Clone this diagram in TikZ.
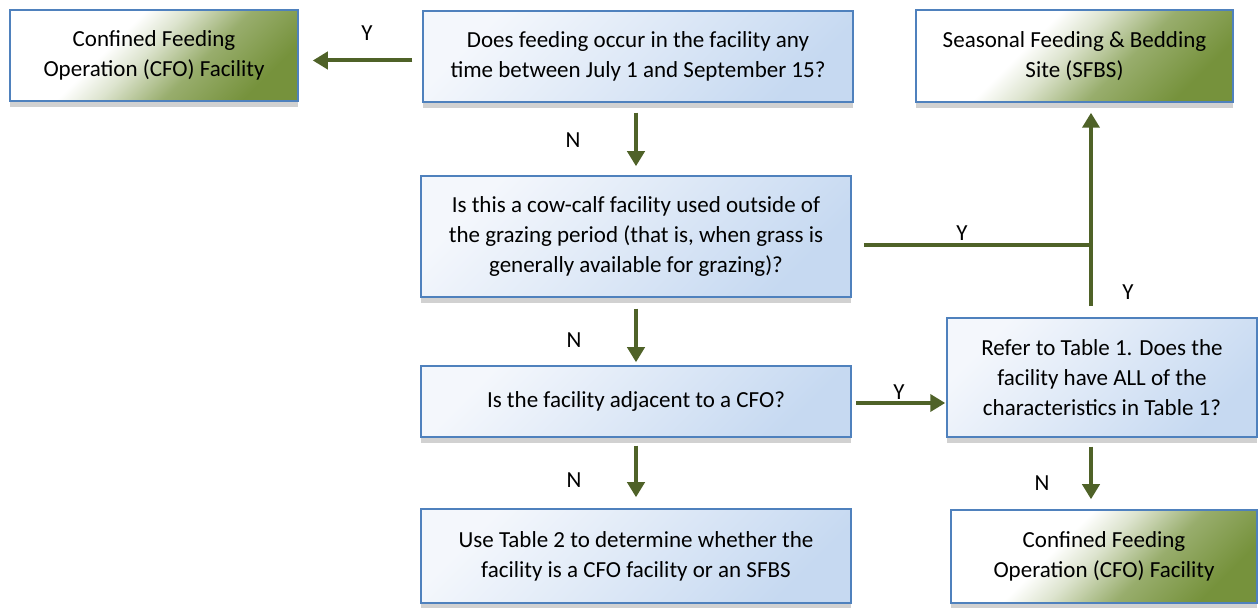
\documentclass[tikz,border=0pt]{standalone}
\usepackage{fontspec}
\setmainfont{Carlito}
\usetikzlibrary{arrows.meta,positioning,shadows}
\definecolor{myBorder}{HTML}{4F81BD}
\definecolor{myArrowGreen}{HTML}{4F6228}
\definecolor{myBlueLight}{HTML}{F4F7FC}
\definecolor{myBlueDark}{HTML}{C6D9F1}
\definecolor{myGreen}{HTML}{76923C}
\pgfdeclareverticalshading{myGreenFade}{100bp}{color(0bp)=(myGreen); color(25bp)=(myGreen); color(40bp)=(myGreen!75); color(52bp)=(myGreen!25); color(60bp)=(white); color(75bp)=(white); color(100bp)=(white)}
\tikzset{
myQuestion/.style={
	rectangle,draw=myBorder,line width=0.75pt,
	top color=myBlueLight,bottom color=myBlueDark,shading angle=45,
	align=center,inner sep=0pt,
	drop shadow={shadow xshift=0pt,shadow yshift=-3pt,opacity=1,fill=black!18}
}
, myResult/.style={
	rectangle,draw=myBorder,line width=0.75pt,
	shading=myGreenFade,shading angle=45,
	align=center,inner sep=0pt,
	drop shadow={shadow xshift=0pt,shadow yshift=-3pt,opacity=1,fill=black!18}
}
% links
, myArrow/.style={-{Triangle[width=8.5pt,length=7.5pt]},draw=myArrowGreen,line width=2pt}
, myLine/.style={draw=myArrowGreen,line width=2pt}
, myLabel/.style={inner sep=0pt}
}

\begin{document}
\begin{tikzpicture}[x=0.5pt,y=-0.5pt,font=\fontsize{11.5}{15}\selectfont]
	\useasboundingbox (0,0) rectangle (1259,608);
	% nodes
	\node[myResult,minimum width=144pt,minimum height=45.5pt] (cfoTop) at (154,55.5)
		{Confined Feeding\\Operation (CFO) Facility};
	\node[myQuestion,minimum width=215pt,minimum height=45.5pt] (q1) at (638,56.5)
		{Does feeding occur in the facility any\\time between July 1 and September 15?};
	\node[myResult,minimum width=158.5pt,minimum height=46pt] (sfbs) at (1074.5,56)
		{Seasonal Feeding \& Bedding\\Site (SFBS)};
	\node[myQuestion,minimum width=215pt,minimum height=60.5pt] (q2) at (636,236.5)
		{Is this a cow-calf facility used outside of\\the grazing period (that is, when grass is\\generally available for grazing)?};
	\node[myQuestion,minimum width=215pt,minimum height=35.5pt] (q3) at (636,401.5)
		{Is the facility adjacent to a CFO?};
	\node[myQuestion,minimum width=155pt,minimum height=59.5pt] (q4) at (1102,377.5)
		{Refer to Table 1. Does the\\facility have ALL of the\\characteristics in Table 1?};
	\node[myQuestion,minimum width=215pt,minimum height=47pt] (q5) at (636,556)
		{Use Table 2 to determine whether the\\facility is a CFO facility or an SFBS};
	\node[myResult,minimum width=153pt,minimum height=46.5pt] (cfoBot) at (1104,556.5)
		{Confined Feeding\\Operation (CFO) Facility};
	% labels
	\node[myLabel] (yCfo) at (367,33) {Y};
	\node[myLabel] (nQ1) at (573,140) {N};
	\node[myLabel] (yQ2) at (962,233) {Y};
	\node[myLabel] (yQ4) at (1128,292) {Y};
	\node[myLabel] (nQ2) at (574,340) {N};
	\node[myLabel] (yQ3) at (899,392) {Y};
	\node[myLabel] (nQ3) at (574,480) {N};
	\node[myLabel] (nQ4) at (1042,483) {N};
	\coordinate (junction) at (1091,245);

	% links
	\draw [myArrow,shorten <=5pt,shorten >=7pt] ([yshift=-2pt]q1.west) to ([yshift=-2pt]q1.west -| cfoTop.east);
	\draw [myArrow] ([yshift=-5pt]q1.south -| q2.north) to ([yshift=4.5pt]q2.north);
	\draw [myArrow] ([yshift=-5.5pt]q2.south) to ([yshift=1.5pt]q3.north);
	\draw [myArrow] ([yshift=-4pt]q3.south) to ([yshift=5.5pt]q5.north);
	\draw [myArrow,shorten <=2pt,shorten >=0.5pt] ([yshift=-0.75pt]q3.east) to ([yshift=-0.75pt]q3.east -| q4.west);

	\draw [myLine] ([xshift=6pt,yshift=-4.25pt]q2.east) to (junction);
	\draw [myArrow] ([yshift=5.5pt]q4.north -| junction) to ([yshift=-5pt]sfbs.south -| junction);
	\draw [myArrow] ([yshift=-4.5pt]q4.south -| junction) to ([yshift=5pt]cfoBot.north -| junction);
\end{tikzpicture}
\end{document}
